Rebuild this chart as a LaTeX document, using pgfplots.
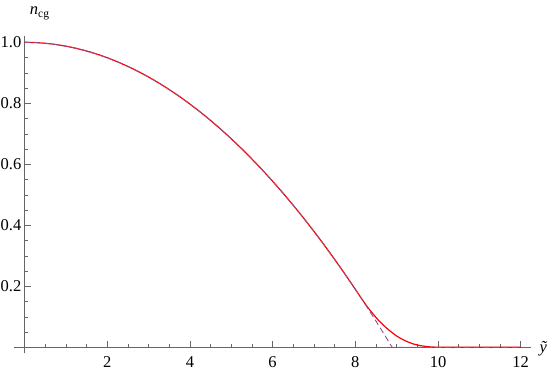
\documentclass[border=0pt]{standalone}
\usepackage{fontspec}
\setmainfont{Liberation Serif}
\usepackage{pgfplots}
\pgfplotsset{compat=1.18}
\definecolor{dashc}{rgb}{0.59,0.31,0.55}
\definecolor{axc}{rgb}{0.4,0.4,0.4}
\begin{document}
\fontsize{16.5}{19}\selectfont
\begin{tikzpicture}
\begin{axis}[
  scale only axis,
  width=516.9pt, height=317.2pt,
  xmin=-0.25, xmax=12.25, ymin=-0.02, ymax=1.02,
  axis lines=middle,
  axis line style={-, draw=axc, line width=0.6pt},
  clip=false,
  xtick={2,4,6,8,10,12},
  ytick={0.2,0.4,0.6,0.8,1.0},
  yticklabels={0.2,0.4,0.6,0.8,1.0},
  minor xtick={0.5,1,1.5,2.5,3,3.5,4.5,5,5.5,6.5,7,7.5,8.5,9,9.5,10.5,11,11.5},
  minor ytick={0.05,0.1,0.15,0.25,0.3,0.35,0.45,0.5,0.55,0.65,0.7,0.75,0.85,0.9,0.95},
  tick align=inside,
  major tick length=6pt,
  minor tick length=3.5pt,
  tick style={draw=axc, line width=0.5pt},
  /pgf/number format/assume math mode=true,
  x tick label style={font=\fontfamily{\familydefault}\fontsize{16.5}{19}\selectfont, yshift=-4pt},
  y tick label style={font=\fontfamily{\familydefault}\fontsize{16.5}{19}\selectfont, xshift=2.5pt},
]
\coordinate (O) at (axis cs:0,0);
\addplot[red, line width=1.2pt, smooth] coordinates {
(0,1.0000)(0.25,0.9992)(0.5,0.9968)(0.75,0.9929)(1,0.9873)(1.25,0.9802)(1.5,0.9715)(1.75,0.9612)
(2,0.9494)(2.25,0.9359)(2.5,0.9209)(2.75,0.9043)(3,0.8861)(3.25,0.8664)(3.5,0.8450)(3.75,0.8221)
(4,0.7975)(4.25,0.7714)(4.5,0.7438)(4.75,0.7145)(5,0.6836)(5.25,0.6512)(5.5,0.6172)(5.75,0.5816)
(6,0.5445)(6.25,0.5057)(6.5,0.4654)(6.75,0.4235)(7,0.3800)(7.25,0.3349)(7.5,0.2882)(7.75,0.2400)
(8,0.1902)(8.1,0.1700)(8.2,0.1500)(8.3,0.1310)(8.4,0.1140)(8.5,0.0980)(8.6,0.0830)(8.7,0.0700)
(8.8,0.0580)(8.9,0.0470)(9.0,0.0370)(9.1,0.0290)(9.2,0.0220)(9.3,0.0160)(9.4,0.0110)(9.5,0.0075)
(9.6,0.0048)(9.7,0.0028)(9.8,0.0015)(9.9,0.0007)(10,0.0003)(10.2,0)(10.6,0)(12,0)
};
\addplot[dashc, line width=0.9pt, dash pattern=on 6pt off 3.5pt] coordinates {
(0,1.0000)(0.25,0.9992)(0.5,0.9968)(0.75,0.9929)(1,0.9873)(1.25,0.9802)(1.5,0.9715)(1.75,0.9612)
(2,0.9494)(2.25,0.9359)(2.5,0.9209)(2.75,0.9043)(3,0.8861)(3.25,0.8664)(3.5,0.8450)(3.75,0.8221)
(4,0.7975)(4.25,0.7714)(4.5,0.7438)(4.75,0.7145)(5,0.6836)(5.25,0.6512)(5.5,0.6172)(5.75,0.5816)
(6,0.5445)(6.25,0.5057)(6.5,0.4654)(6.75,0.4235)(7,0.3800)(7.25,0.3349)(7.5,0.2882)(7.75,0.2400)
(8,0.1902)(8.25,0.1388)(8.5,0.0858)(8.75,0.0312)(8.89,0)(12,0)
};
\node[anchor=west, inner sep=0pt] at (axis cs:12.45,-0.005) {\textit{ỹ}};
\node[anchor=center, inner sep=0pt] at (axis cs:0.37,1.095) {\textit{n}\textsubscript{cg}};
\end{axis}
\pgfresetboundingbox
\path[use as bounding box] (O) ++(-24.5pt,-24.7pt) rectangle ++(554pt,372pt);
\end{tikzpicture}
\end{document}
